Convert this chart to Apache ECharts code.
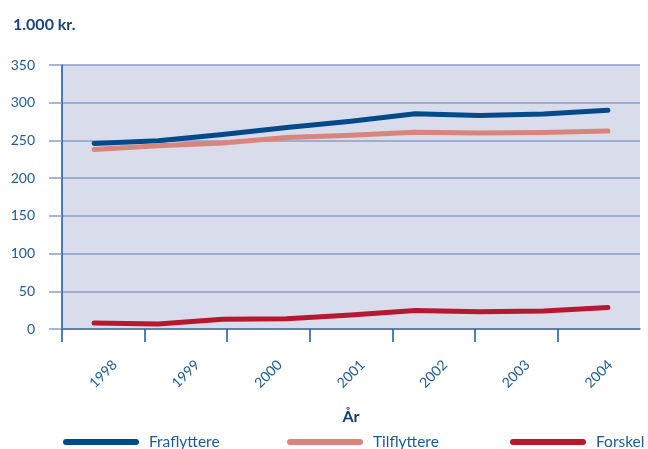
<!DOCTYPE html>
<html>
<head>
<meta charset="utf-8">
<script src="https://cdn.jsdelivr.net/npm/echarts@6/dist/echarts.min.js"></script>
<style>
html,body{margin:0;padding:0;background:#fff;}
#chart{width:648px;height:449px;}
</style>
</head>
<body>
<div id="chart"></div>
<script>
// Year categories shown on the axis
var years = ['1998', '1999', '2000', '2001', '2002', '2003', '2004'];
// Observation points along the lines (nine, evenly spread over the period)
var points = ['p1', 'p2', 'p3', 'p4', 'p5', 'p6', 'p7', 'p8', 'p9'];
// Series values (1.000 kr.)
var fraflyttere = [246, 249.5, 258, 267, 275.5, 285.5, 283, 285, 290];
var tilflyttere = [238, 243, 246.5, 254, 257, 261, 260, 260.5, 262.5];
var forskel = [8, 6.5, 13, 13.5, 18.5, 24.5, 23, 24, 28.5];
// Y-axis ticks
var yMin = 0, yMax = 350, yStep = 50;

var fontFam = 'Lato, "Open Sans", sans-serif';
var labelBlue = '#1d5a96';
var navy = '#0f3d75';
var gridCol = '#8c9dc7';

var chart = echarts.init(document.getElementById('chart'));

var tickVals = years.map(function (y, i) { return i; });
var labelVals = years.map(function (y, i) { return i + 0.5; });

function legendAt(left, name) {
  return {
    data: [name],
    left: left,
    top: 434,
    padding: 0,
    icon: 'path://M3,0 L73,0 A3,3 0 0 1 73,6 L3,6 A3,3 0 0 1 3,0 Z',
    itemWidth: 76,
    itemHeight: 6,
    selectedMode: false,
    textStyle: { fontFamily: fontFam, fontSize: 15.5, color: labelBlue, padding: [0, 0, 0, 5] }
  };
}

chart.setOption({
  animation: false,
  title: {
    text: '1.000 kr.',
    left: 8,
    top: 12,
    textStyle: { fontFamily: fontFam, fontSize: 16, fontWeight: 'bold', color: '#1a4478' }
  },
  legend: [
    legendAt(63, 'Fraflyttere'),
    legendAt(287, 'Tilflyttere'),
    legendAt(510, 'Forskel')
  ],
  grid: {
    left: 62, right: 8, top: 65, bottom: 120,
    show: true, backgroundColor: '#d9dcea', borderWidth: 0
  },
  xAxis: [
    {
      type: 'value',
      min: 0,
      max: years.length,
      interval: 1,
      name: 'År',
      nameLocation: 'middle',
      nameGap: 80,
      nameTextStyle: { fontFamily: fontFam, fontSize: 16, fontWeight: 'bold', color: navy },
      splitLine: { show: false },
      axisLine: { show: true, lineStyle: { color: '#4d6fa6', width: 1.5 } },
      axisTick: {
        show: true, length: 13, customValues: tickVals,
        lineStyle: { color: '#1d5592', width: 1.5 }
      },
      axisLabel: {
        customValues: labelVals,
        rotate: 45,
        align: 'center',
        verticalAlign: 'middle',
        margin: 45,
        fontFamily: fontFam,
        fontSize: 14,
        color: labelBlue,
        formatter: function (v) { return years[Math.floor(v)]; }
      }
    },
    {
      type: 'category',
      data: points,
      boundaryGap: true,
      show: false
    }
  ],
  yAxis: {
    type: 'value',
    min: yMin,
    max: yMax,
    interval: yStep,
    axisLine: { show: true, lineStyle: { color: '#1d5592', width: 1.5 } },
    axisTick: { show: true, length: 13, lineStyle: { color: gridCol, width: 1.5 } },
    splitLine: { show: true, lineStyle: { color: gridCol, width: 1.5 } },
    axisLabel: {
      margin: 27,
      fontFamily: fontFam,
      fontSize: 14,
      color: labelBlue,
      padding: [0, 0, 8, 0]
    }
  },
  series: [
    {
      name: 'Fraflyttere', type: 'line', xAxisIndex: 1, data: fraflyttere,
      symbol: 'none', color: '#044a8b',
      lineStyle: { width: 5, color: '#044a8b', cap: 'round', join: 'round' }
    },
    {
      name: 'Tilflyttere', type: 'line', xAxisIndex: 1, data: tilflyttere,
      symbol: 'none', color: '#d8857b',
      lineStyle: { width: 5, color: '#d8857b', cap: 'round', join: 'round' }
    },
    {
      name: 'Forskel', type: 'line', xAxisIndex: 1, data: forskel,
      symbol: 'none', color: '#b7172f',
      lineStyle: { width: 5, color: '#b7172f', cap: 'round', join: 'round' }
    }
  ]
});
</script>
</body>
</html>
